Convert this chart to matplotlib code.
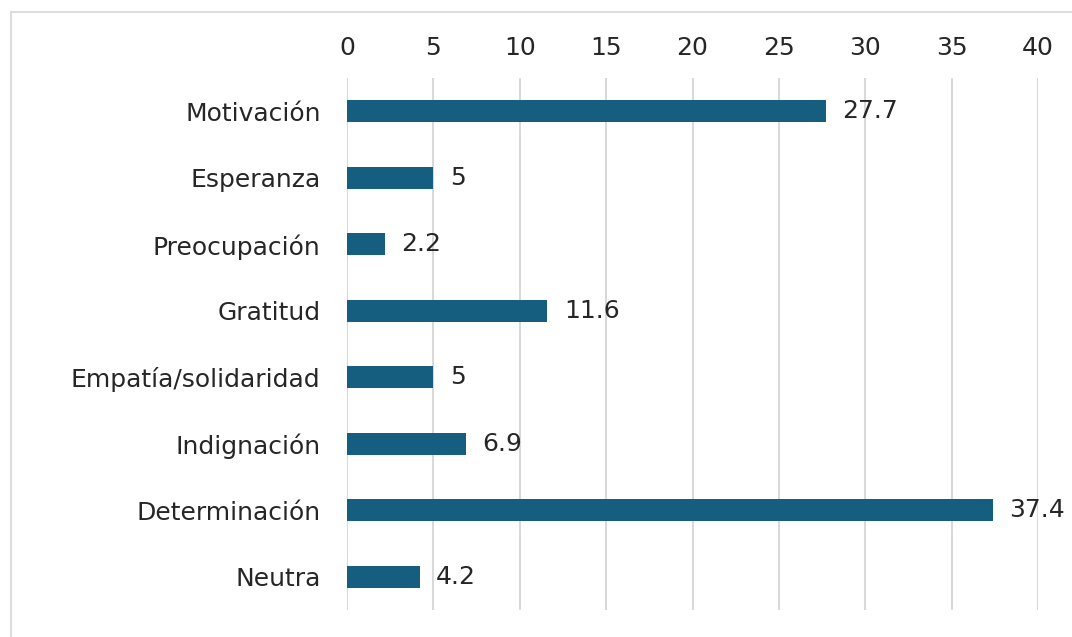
import matplotlib.pyplot as plt
from matplotlib.patches import Rectangle

categorias = ['Motivación', 'Esperanza', 'Preocupación', 'Gratitud',
              'Empatía/solidaridad', 'Indignación', 'Determinación', 'Neutra']
valores = [27.7, 5, 2.2, 11.6, 5, 6.9, 37.4, 4.2]
etiquetas = ['27.7', '5', '2.2', '11.6', '5', '6.9', '37.4', '4.2']
ticks_x = [0, 5, 10, 15, 20, 25, 30, 35, 40]

color_barra = '#165E7F'
color_texto = '#262626'
tam = 18

plt.rcParams['font.family'] = ['DejaVu Sans']

fig = plt.figure(figsize=(10.72, 6.37), dpi=100)
ax = fig.add_axes([347/1072, 1 - 610/637, (1038 - 347)/1072, (610 - 78)/637])

# marco gris claro alrededor de la figura
fig.patches.append(Rectangle((11/1072, -0.05), 1.1, 1 - 12/637 + 0.05,
                             transform=fig.transFigure, fill=False,
                             edgecolor='#dddddd', linewidth=1.5))

y = range(len(categorias))
ax.barh(y, valores, height=0.33, color=color_barra, zorder=3)
for yi, v, t in zip(y, valores, etiquetas):
    ax.text(v + 0.95, yi, t, va='center', ha='left', fontsize=tam, color=color_texto, zorder=4)

ax.set_yticks(list(y))
ax.set_yticklabels(categorias, fontsize=tam, color=color_texto)
ax.set_ylim(len(categorias) - 0.5, -0.5)
ax.set_xlim(0, 40)
ax.set_xticks(ticks_x)
ax.set_xticklabels([str(t) for t in ticks_x], fontsize=tam, color=color_texto)
ax.xaxis.tick_top()
ax.tick_params(axis='x', length=0, pad=13)
ax.tick_params(axis='y', length=0, pad=19)
ax.grid(axis='x', color='#d9d9d9', linewidth=1.5, zorder=0)
ax.set_axisbelow(True)
for s in ax.spines.values():
    s.set_visible(False)

fig.savefig('out.png', dpi=100)
